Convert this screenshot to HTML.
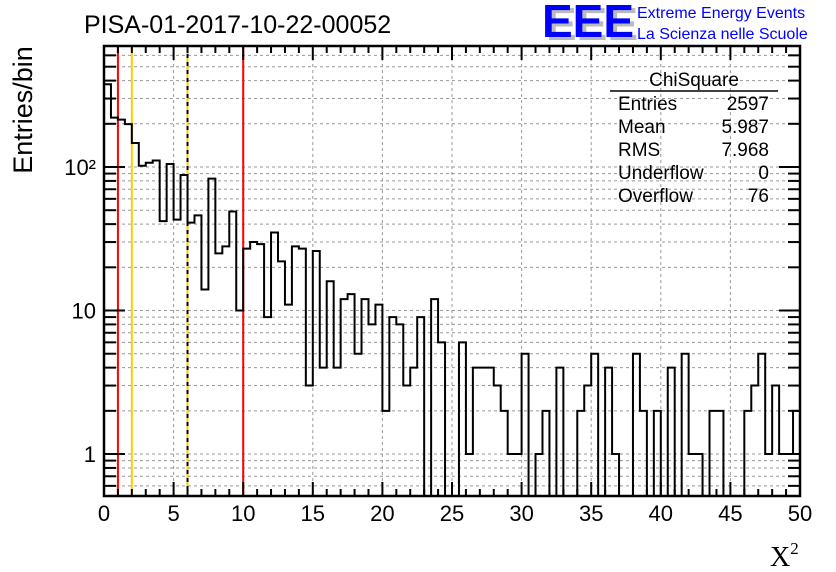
<!DOCTYPE html>
<html><head><meta charset="utf-8"><style>
body{margin:0;background:#fff;}
svg{display:block;font-family:"Liberation Sans",sans-serif;}
</style></head><body>
<svg id="chart" width="836" height="572" xmlns="http://www.w3.org/2000/svg">
<g id="grid"></g>
<g id="marks"></g>
<g id="hist"></g>
<g id="axes"></g>
<text x="84" y="33" font-size="25">PISA-01-2017-10-22-00052</text>
<g>
<text x="546" y="40" font-size="46" font-weight="bold" fill="#bbb">EEE</text>
<text x="542" y="37" font-size="46" font-weight="bold" fill="#0000ff">EEE</text>
<text x="637" y="18" font-size="16" fill="#0000ff">Extreme Energy Events</text>
<text x="637" y="39" font-size="16" fill="#0000ff">La Scienza nelle Scuole</text>
</g>
<g font-size="19">
<text x="694" y="86" text-anchor="middle">ChiSquare</text>
<line x1="610" y1="91" x2="778" y2="91" stroke="#000" stroke-width="1.5"/>
<text x="618" y="110">Entries</text><text x="769" y="110" text-anchor="end">2597</text>
<text x="618" y="133">Mean</text><text x="769" y="133" text-anchor="end">5.987</text>
<text x="618" y="156">RMS</text><text x="769" y="156" text-anchor="end">7.968</text>
<text x="618" y="179">Underflow</text><text x="769" y="179" text-anchor="end">0</text>
<text x="618" y="202">Overflow</text><text x="769" y="202" text-anchor="end">76</text>
</g>
<text transform="translate(32,110) rotate(-90)" text-anchor="middle" font-size="27">Entries/bin</text>
<text x="770" y="566" font-family="Liberation Serif,serif" font-size="28">X<tspan font-size="17" dy="-12">2</tspan></text>
</svg>
<script>
const binEdgesMin = 0, binEdgesMax = 50;
const counts = [377,221,214,199,147,102,107,111,42,105,43,88,41,46,14,83,25,28,49,10,
27,30,29,9,35,22,11,28,27,3,26,4,16,4,12,13,5,12,8,11,
2,9,8,3,4,9,0,12,6,0,0,6,1,4,4,4,3,2,1,1,
5,0,1,2,0,4,0,0,2,3,5,0,4,1,0,0,5,2,0,2,
0,4,0,5,1,1,0,2,2,0,0,0,2,3,5,1,3,1,1,2];
const xTicks = [0,5,10,15,20,25,30,35,40,45,50];
const yTickLabels = [{v:1,t:"1"},{v:10,t:"10"},{v:100,t:"10²"}];
const markerLines = [{x:1,c:"#ff0000",d:""},{x:2,c:"#ffcc00",d:""},{x:6,c:"#ffcc00",d:"dash"},{x:10,c:"#ff0000",d:""}];

const L=104,R=800,T=46,B=496, yMin=0.51, yMax=697;
const sx=v=>L+(v-binEdgesMin)/(binEdgesMax-binEdgesMin)*(R-L);
const sy=v=>B-(Math.log10(v)-Math.log10(yMin))/(Math.log10(yMax)-Math.log10(yMin))*(B-T);
const NS="http://www.w3.org/2000/svg";
function mk(p,tag,a){const e=document.createElementNS(NS,tag);for(const k in a)e.setAttribute(k,a[k]);p.appendChild(e);return e;}
const grid=document.getElementById('grid'),axes=document.getElementById('axes'),hist=document.getElementById('hist'),marks=document.getElementById('marks');
xTicks.forEach(v=>{if(v>binEdgesMin&&v<binEdgesMax){const l=mk(grid,'line',{x1:sx(v),x2:sx(v),y1:T,y2:B,stroke:'#999','stroke-dasharray':'3,3','stroke-width':1});

}});
for(let d=0.1;d<=100;d*=10){for(let m=1;m<10;m++){const v=d*m;if(v<yMin||v>yMax)continue;const y=sy(v);
const l=mk(grid,'line',{x1:L,x2:R,y1:y,y2:y,stroke:'#999','stroke-dasharray':'3,3','stroke-width':1});


const big=(m===1);
[[L,L+(big?21:12)],[R,R-(big?21:12)]].forEach(([a,b])=>{const t=mk(axes,'line',{x1:a,x2:b,y1:y,y2:y,stroke:'#000','stroke-width':2});

});}}
markerLines.forEach(m=>{const x=sx(m.x);
const l=mk(marks,'line',{x1:x,x2:x,y1:T,y2:B,stroke:m.c,'stroke-width':2});


if(m.d){const d=mk(marks,'line',{x1:x,x2:x,y1:T,y2:B,stroke:'#000','stroke-width':2,'stroke-dasharray':'4,4'});

}});
const n=counts.length,w=(binEdgesMax-binEdgesMin)/n;
const yv=c=>c>0?sy(c):B;
let p='M'+sx(binEdgesMin)+','+yv(counts[0]);
for(let i=0;i<n;i++){const x0=sx(binEdgesMin+i*w),x1=sx(binEdgesMin+(i+1)*w);
p+=(i?' L'+x0+','+yv(counts[i]):'')+' L'+x1+','+yv(counts[i]);}
const h=mk(hist,'path',{d:p,fill:'none',stroke:'#000','stroke-width':2});


const f=mk(axes,'rect',{x:L,y:T,width:R-L,height:B-T,fill:'none',stroke:'#000','stroke-width':2.5});


for(let v=binEdgesMin;v<=binEdgesMax;v++){const x=sx(v),big=v%5===0,len=big?14:7;
[[B,B-len],[T,T+len]].forEach(([a,b])=>{const t=mk(axes,'line',{x1:x,x2:x,y1:a,y2:b,stroke:'#000','stroke-width':2});

});}
xTicks.forEach(v=>{const t=mk(axes,'text',{x:sx(v),y:521,'text-anchor':'middle','font-size':22});t.textContent=v;

});
yTickLabels.forEach(o=>{const t=mk(axes,'text',{x:96,y:sy(o.v)+8,'text-anchor':'end','font-size':22});t.textContent=o.t;

});
</script>
</body></html>
